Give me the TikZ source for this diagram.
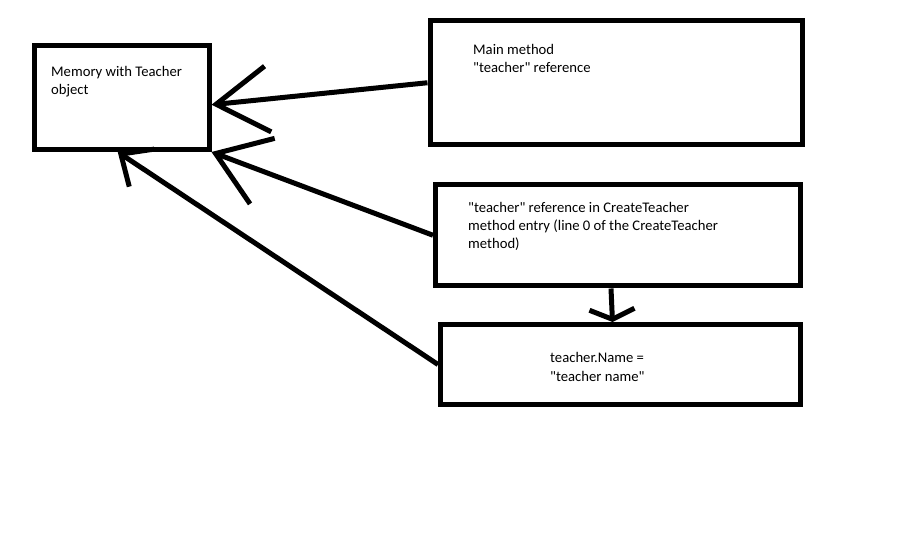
\documentclass[tikz,border=0pt]{standalone}
\usepackage{fontspec}
\setmainfont{Carlito}[Ligatures=TeXOff]
\usetikzlibrary{arrows.meta}

\begin{document}
\begin{tikzpicture}[x=1pt, y=-1pt,
    box/.style={draw, line width=5pt, inner sep=0pt, minimum width=#1},
    label text/.style={anchor=base west, inner sep=0pt, align=left,
        font=\fontsize{14.67}{18}\selectfont},
    ref arrow/.style 2 args={line width=5pt, -{Straight Barb[length=#1, width=#2]}}]
    \useasboundingbox (0,0) rectangle (921,553);

    % Boxes
    \node[box=174.5pt, minimum height=103.5pt] (memory) at (121.75, 97.75) {};
    \node[box=372pt, minimum height=123.5pt] (main) at (616, 82.75) {};
    \node[box=365pt, minimum height=101.5pt] (create) at (618, 235.25) {};
    \node[box=360pt, minimum height=80pt] (setname) at (620.5, 364.5) {};

    % Texts in the boxes (placed at the baseline of their last line)
    \node[label text] (memorytext) at (51, 95) {Memory with Teacher\\object};
    \node[label text] (maintext) at (473, 73) {Main method\\"teacher" reference};
    \node[label text] (createtext) at (468, 249) {"teacher" reference in CreateTeacher\\method entry (line 0 of the CreateTeacher\\method)};
    \node[label text] (setnametext) at (550, 381) {teacher.Name =\\"teacher name"};

    % References pointing to the object
    \draw[ref arrow={52pt}{66pt}] (main.west) -- ([yshift=-7pt]memory.east);
    \draw[ref arrow={50pt}{70pt}] (create.west) -- (memory.south east);
    \draw[ref arrow={25pt}{45pt}] (setname.west) -- ([xshift=-4pt]memory.south);

    % Next step
    \draw[ref arrow={10pt}{45pt}] ([xshift=-7pt]create.south) -- ([xshift=-8pt]setname.north);

\end{tikzpicture}
\end{document}
